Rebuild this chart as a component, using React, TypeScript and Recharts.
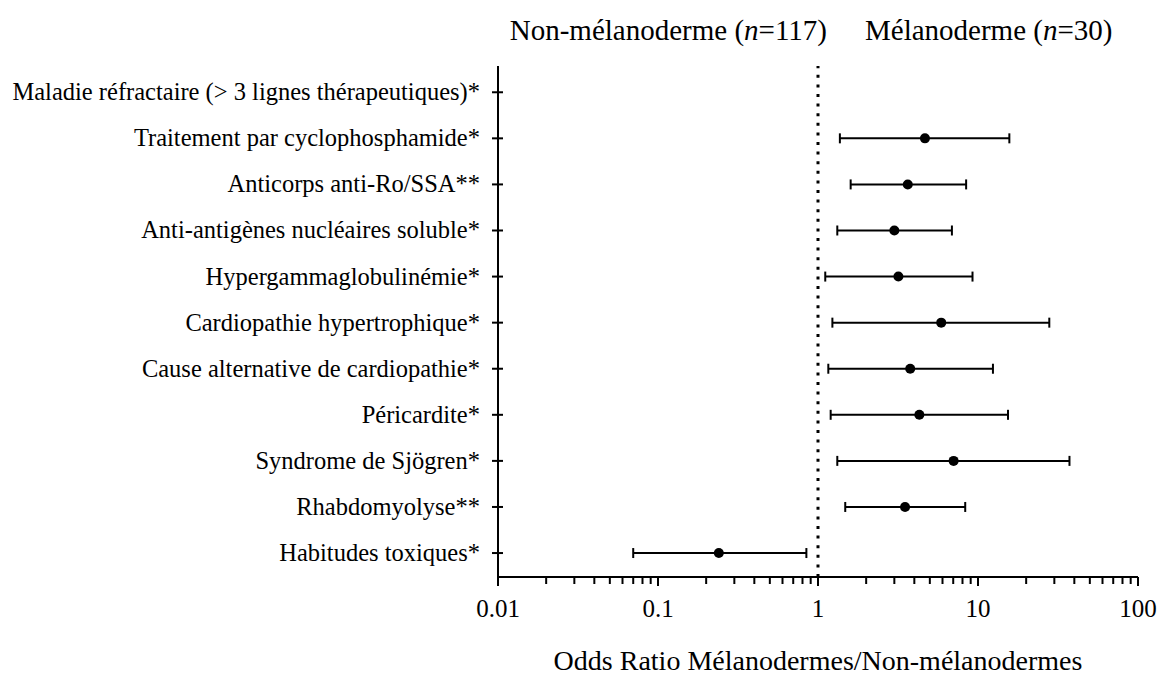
import React from 'react'
import {
  ComposedChart,
  Scatter,
  ErrorBar,
  XAxis,
  YAxis,
  ReferenceLine
} from 'recharts'

const rowLabels = [
  'Maladie réfractaire (> 3 lignes thérapeutiques)*',
  'Traitement par cyclophosphamide*',
  'Anticorps anti-Ro/SSA**',
  'Anti-antigènes nucléaires soluble*',
  'Hypergammaglobulinémie*',
  'Cardiopathie hypertrophique*',
  'Cause alternative de cardiopathie*',
  'Péricardite*',
  'Syndrome de Sjögren*',
  'Rhabdomyolyse**',
  'Habitudes toxiques*'
]

// first row has no estimate drawn
const oddsRatio = [null, 4.66, 3.64, 3.0, 3.18, 5.89, 3.77, 4.3, 7.04, 3.5, 0.24]
const ciLow = [null, 1.37, 1.6, 1.32, 1.11, 1.23, 1.16, 1.2, 1.32, 1.48, 0.07]
const ciHigh = [null, 15.7, 8.43, 6.87, 9.24, 27.9, 12.4, 15.4, 37.3, 8.32, 0.846]

const decades = [0.01, 0.1, 1, 10]
const multipliers = [1, 2, 3, 4, 5, 6, 7, 8, 9]
const majorTicks = [0.01, 0.1, 1, 10, 100]
const majorLabels = ['0.01', '0.1', '1', '10', '100']

const xTicks: number[] = []
decades.forEach((d) => multipliers.forEach((m) => xTicks.push(parseFloat((d * m).toPrecision(3)))))
xTicks.push(100)

const rowTicks = rowLabels.map((_, i) => i)

const data = rowLabels
  .map((label, i) => ({
    label,
    row: i,
    or: oddsRatio[i],
    err: oddsRatio[i] == null ? null : [oddsRatio[i]! - ciLow[i]!, ciHigh[i]! - oddsRatio[i]!]
  }))
  .filter((d) => d.or != null)

const FONT = '"Liberation Serif", "Times New Roman", serif'

const XTick = (props: any) => {
  const { x, y, payload } = props
  const idx = majorTicks.findIndex((t) => Math.abs(t - payload.value) < 1e-9)
  const major = idx >= 0
  return (
    <g>
      <line x1={x} y1={y} x2={x} y2={y + (major ? 9 : 7)} stroke="#000" strokeWidth={2} />
      {major && (
        <text x={x} y={y + 40} textAnchor="middle" fontFamily={FONT} fontSize={25} fill="#000">
          {majorLabels[idx]}
        </text>
      )}
    </g>
  )
}

const YTick = (props: any) => {
  const { x, y, payload } = props
  return (
    <g>
      <line x1={x - 6} y1={y} x2={x + 5} y2={y} stroke="#000" strokeWidth={2} />
      <text x={x - 18} y={y + 8} textAnchor="end" fontFamily={FONT} fontSize={24.5} fill="#000">
        {rowLabels[payload.value]}
      </text>
    </g>
  )
}

const GroupHeaders = (props: any) => {
  const { viewBox } = props
  const x = viewBox.x
  const y = viewBox.y
  return (
    <g fontFamily={FONT} fontSize={29} fill="#000">
      <text x={x + 9} y={y - 26} textAnchor="end">
        Non-mélanoderme (<tspan fontStyle="italic">n</tspan>=117)
      </text>
      <text x={x + 47} y={y - 26} textAnchor="start">
        Mélanoderme (<tspan fontStyle="italic">n</tspan>=30)
      </text>
    </g>
  )
}

const Dot = (props: any) => <circle cx={props.cx} cy={props.cy} r={5} fill="#000" />

export default function App() {
  return (
    <div style={{ position: 'absolute', left: 0, top: 0, width: 1159, height: 688, background: '#fff' }}>
      <ComposedChart
        width={1159}
        height={688}
        data={data}
        margin={{ top: 66, right: 21, bottom: 0, left: 0 }}
      >
        <XAxis
          dataKey="or"
          type="number"
          scale="log"
          domain={[0.01, 100]}
          allowDataOverflow
          ticks={xTicks}
          interval={0}
          height={111}
          axisLine={{ stroke: '#000', strokeWidth: 2 }}
          tickLine={false}
          tickSize={0}
          tickMargin={0}
          tick={<XTick />}
          label={{
            value: 'Odds Ratio Mélanodermes/Non-mélanodermes',
            position: 'insideBottom',
            offset: 18,
            fontFamily: FONT,
            fontSize: 28,
            fill: '#000'
          }}
        />
        <YAxis
          dataKey="row"
          type="number"
          domain={[-0.57, 10.52]}
          reversed
          allowDataOverflow
          ticks={rowTicks}
          interval={0}
          width={498}
          axisLine={{ stroke: '#000', strokeWidth: 2 }}
          tickLine={false}
          tickSize={0}
          tickMargin={0}
          tick={<YTick />}
        />
        <ReferenceLine
          x={1}
          stroke="#000"
          strokeWidth={3}
          strokeDasharray="3 6.6"
          label={<GroupHeaders />}
        />
        <Scatter dataKey="row" fill="#000" shape={<Dot />} isAnimationActive={false}>
          <ErrorBar dataKey="err" direction="x" width={5} stroke="#000" strokeWidth={2} />
        </Scatter>
      </ComposedChart>
    </div>
  )
}
